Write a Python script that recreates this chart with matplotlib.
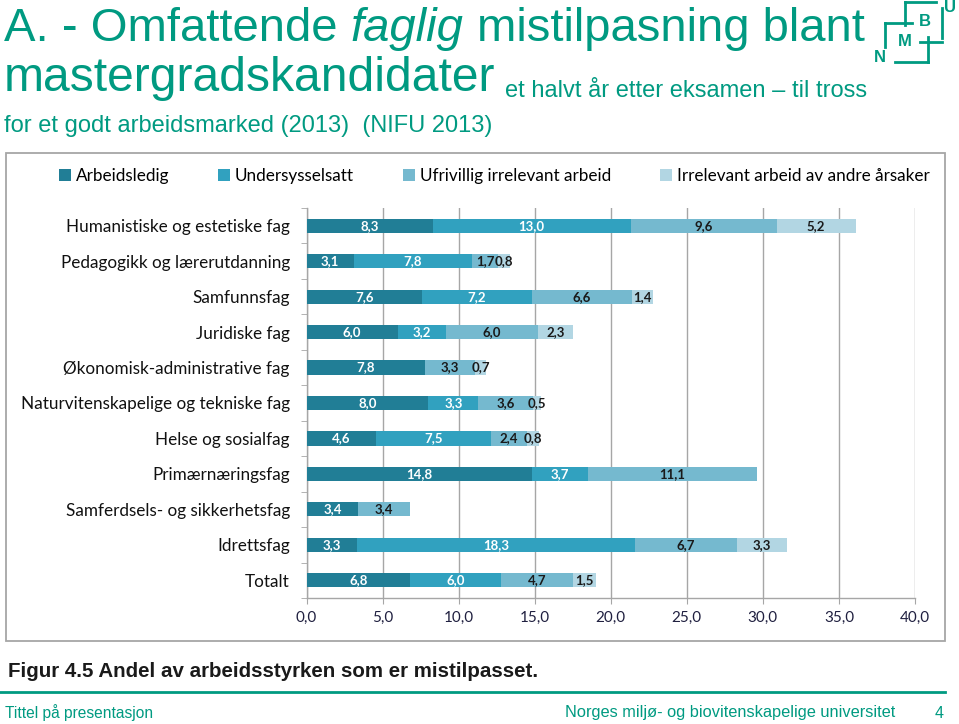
import numpy as np
import matplotlib
matplotlib.use('Agg')
import matplotlib.pyplot as plt
from matplotlib.patches import Rectangle
from matplotlib.lines import Line2D

### data (NIFU 2013)
categories = ['Humanistiske og estetiske fag', 'Pedagogikk og lærerutdanning', 'Samfunnsfag',
              'Juridiske fag', 'Økonomisk-administrative fag', 'Naturvitenskapelige og tekniske fag',
              'Helse og sosialfag', 'Primærnæringsfag', 'Samferdsels- og sikkerhetsfag',
              'Idrettsfag', 'Totalt']
arbeidsledig    = [8.3, 3.1, 7.6, 6.0, 7.8, 8.0, 4.6, 14.8, 3.4, 3.3, 6.8]
undersysselsatt = [13.0, 7.8, 7.2, 3.2, 0.0, 3.3, 7.5, 3.7, 0.0, 18.3, 6.0]
ufrivillig      = [9.6, 1.7, 6.6, 6.0, 3.3, 3.6, 2.4, 11.1, 3.4, 6.7, 4.7]
irrelevant      = [5.2, 0.8, 1.4, 2.3, 0.7, 0.5, 0.8, 0.0, 0.0, 3.3, 1.5]
series_names = ['Arbeidsledig', 'Undersysselsatt', 'Ufrivillig irrelevant arbeid',
                'Irrelevant arbeid av andre årsaker']
xticks = [0, 5, 10, 15, 20, 25, 30, 35, 40]

colors = ['#217E96', '#31A1BF', '#75B9CF', '#B2D6E3']
label_colors = ['white', 'white', '#1a1a1a', '#1a1a1a']
green = '#009A81'
W, H = 959, 724

def fx(px):
    return px / W

def fy(py):
    return 1 - py / H

fig = plt.figure(figsize=(W / 100, H / 100), dpi=100)
fig.patch.set_facecolor('white')

#################################
### chart panel
#################################
fig.add_artist(Rectangle((fx(6), fy(641)), fx(945) - fx(6), fy(153) - fy(641),
                         transform=fig.transFigure, fill=False, ec='#A6A6A6', lw=1.3))

ax = fig.add_axes([fx(306.5), fy(598), fx(915) - fx(306.5), fy(208) - fy(598)])
chartfont = 'Lato'

y = np.arange(len(categories))
left = np.zeros(len(categories))
handles = []
for vals, name, c, lc in zip([arbeidsledig, undersysselsatt, ufrivillig, irrelevant],
                             series_names, colors, label_colors):
    vals = np.array(vals)
    bars = ax.barh(y, vals, left=left, height=0.4, color=c, label=name, zorder=3)
    handles.append(bars)
    labels = [('%.1f' % v).replace('.', ',') if v > 0 else '' for v in vals]
    ax.bar_label(bars, labels=labels, label_type='center', color=lc,
                 fontsize=9.5, fontweight='bold', family=chartfont, zorder=4)
    left = left + vals

ax.set_xlim(0, 40)
ax.set_ylim(len(categories) - 0.5, -0.5)
ax.set_xticks(xticks)
ax.set_xticklabels([('%.1f' % t).replace('.', ',') for t in xticks],
                   family=chartfont, fontsize=11, color='#202040')
ax.set_yticks(y)
ax.set_yticklabels(categories, family=chartfont, fontsize=12.3, color='#111111')
ax.set_yticks(np.arange(-0.5, len(categories), 1), minor=True)
ax.tick_params(axis='y', which='major', length=0, pad=12)
ax.tick_params(axis='y', which='minor', length=4, color='#A6A6A6', direction='out')
ax.tick_params(axis='x', length=4, color='#A6A6A6', direction='out', pad=5)
ax.grid(axis='x', color='#A6A6A6', lw=1.0, zorder=0)
for s in ['top', 'right']:
    ax.spines[s].set_visible(False)
for s in ['left', 'bottom']:
    ax.spines[s].set_color('#A6A6A6')
    ax.spines[s].set_linewidth(1.0)

ax.legend(handles=handles, loc='center', bbox_to_anchor=(fx(494), fy(176)),
          bbox_transform=fig.transFigure, ncol=4, frameon=False,
          handlelength=0.7, handleheight=0.7, handletextpad=0.3, columnspacing=2.85,
          prop={'family': chartfont, 'size': 12.3})

#################################
### slide title
#################################
r = fig.canvas.get_renderer()

def put_runs(x, yb, runs, size):
    for s, style, gap in runs:
        t = fig.text(fx(x), fy(yb), s, fontsize=size, style=style, color=green,
                     family='Liberation Sans', va='baseline', ha='left')
        x = t.get_window_extent(r).x1 + gap
    return x

sp = 0.278 * 34 * 100 / 72
put_runs(4, 41, [('A. - Omfattende', 'normal', sp), ('faglig', 'italic', sp),
                 ('mistilpasning blant', 'normal', 0)], 34)
x2 = put_runs(4, 91, [('mastergradskandidater', 'normal', 0)], 34.6)
fig.text(fx(x2 + 10), fy(97), 'et halvt år etter eksamen – til tross', fontsize=17,
         color=green, family='Liberation Sans', va='baseline')
fig.text(fx(4), fy(132), 'for et godt arbeidsmarked (2013)  (NIFU 2013)', fontsize=17,
         color=green, family='Liberation Sans', va='baseline')

# NMBU logo
for xs, ys in [([905, 905], [2, 25]), ([905, 936], [2, 2]), ([885, 912], [23, 23]),
               ([885, 885], [23, 47]), ([942, 942], [8, 38]), ([920, 942], [42, 42]),
               ([928, 928], [37, 62]), ([895, 928], [62, 62])]:
    fig.add_artist(Line2D([fx(v) for v in xs], [fy(v) for v in ys],
                          transform=fig.transFigure, color=green, lw=2))
for s, px, py in [('N', 880, 57), ('M', 905, 42), ('B', 925, 22), ('U', 950, 8)]:
    fig.text(fx(px), fy(py), s, fontsize=12, fontweight='bold', color=green,
             family='Liberation Sans', ha='center', va='center')

#################################
### caption and footer
#################################
fig.text(fx(8), fy(677), 'Figur 4.5 Andel av arbeidsstyrken som er mistilpasset.',
         fontsize=14.8, fontweight='bold', color='#1a1a1a', family='Liberation Sans',
         va='baseline')
fig.add_artist(Line2D([0, fx(945)], [fy(692), fy(692)], transform=fig.transFigure,
                      color=green, lw=2))
fig.text(fx(5), fy(713), 'Tittel på presentasjon', fontsize=11.2, color=green,
         family='Liberation Sans', va='center')
fig.text(fx(895), fy(713), 'Norges miljø- og biovitenskapelige universitet', fontsize=11.8,
         color=green, family='Liberation Sans', va='center', ha='right')
fig.text(fx(944), fy(713), '4', fontsize=11.5, color=green, family='Liberation Sans',
         va='center', ha='right')

fig.savefig('out.png', dpi=100)
